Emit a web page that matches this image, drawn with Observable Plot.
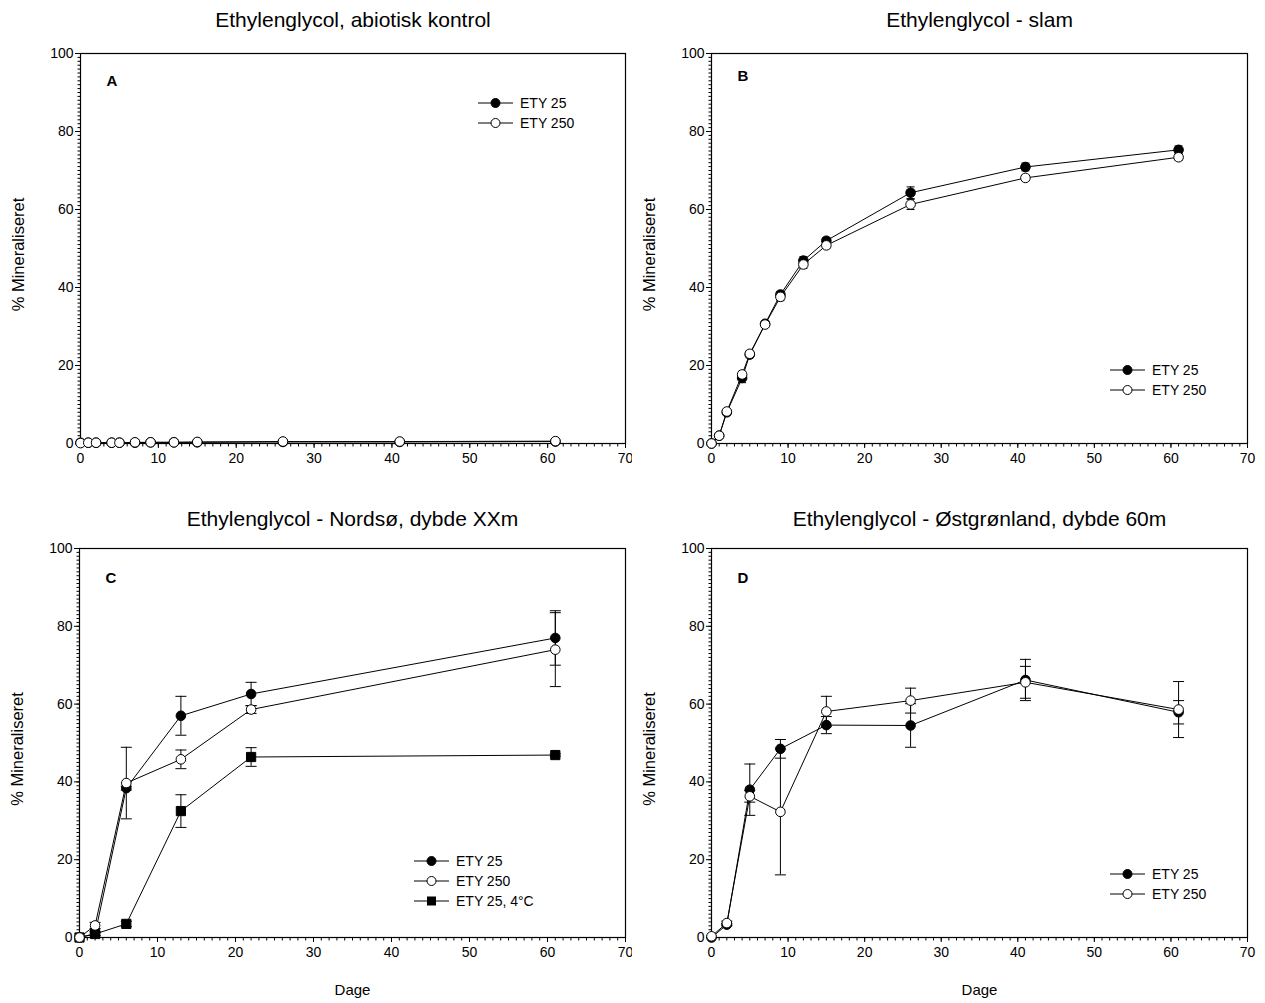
<!DOCTYPE html>
<html>
<head>
<meta charset="utf-8">
<script src="https://cdn.jsdelivr.net/npm/d3@7"></script>
<script src="https://cdn.jsdelivr.net/npm/@observablehq/plot@0.6"></script>
<style>
  html, body { margin: 0; padding: 0; background: #fff; }
  #wrap { position: relative; width: 1265px; height: 1003px; font-family: "Liberation Sans", Arial, Helvetica, sans-serif; }
  .panel { position: absolute; }
  .legend { position: absolute; }
</style>
</head>
<body>
<div id="wrap"></div>
<script>
// ---------- data ----------
const titles = ["Ethylenglycol, abiotisk kontrol", "Ethylenglycol - slam", "Ethylenglycol - Nordsø, dybde XXm", "Ethylenglycol - Østgrønland, dybde 60m"];
const panelLetters = ["A", "B", "C", "D"];
const yLabel = "% Mineraliseret";
const xLabel = "Dage";
const xTicks = [0, 10, 20, 30, 40, 50, 60, 70];
const yTicks = [0, 20, 40, 60, 80, 100];
const seriesNames = ["ETY 25", "ETY 250", "ETY 25, 4°C"];

const daysAB = [0, 1, 2, 4, 5, 7, 9, 12, 15, 26, 41, 61];
const aEty25 = [0.2, 0.2, 0.2, 0.2, 0.2, 0.2, 0.3, 0.3, 0.3, 0.4, 0.4, 0.5];
const aEty250 = [0.1, 0.2, 0.2, 0.2, 0.2, 0.3, 0.3, 0.3, 0.4, 0.5, 0.5, 0.6];

const bEty25 = [0, 2, 8, 16.8, 22.8, 30.7, 38.2, 46.9, 52, 64.3, 70.9, 75.3];
const bEty25Err = [0, 0.4, 0.6, 1.2, 0.8, 0.7, 0.8, 1.0, 0.7, 1.5, 1.0, 1.0];
const bEty250 = [0, 2, 8.2, 17.7, 23, 30.5, 37.6, 45.9, 50.8, 61.3, 68.1, 73.4];
const bEty250Err = [0, 0.4, 0.6, 0.8, 0.8, 0.7, 1.0, 1.0, 0.7, 1.3, 0.7, 0.8];

const daysC = [0, 2, 6, 13, 22, 61];
const cEty25 = [0, 1, 38.4, 57, 62.6, 77];
const cEty25Err = [0, 0.5, 0.5, 5, 3, 7];
const cEty250 = [0, 3.1, 39.7, 45.8, 58.6, 74];
const cEty250Err = [0, 0.8, 9.2, 2.4, 1, 9.5];
const cEty25Cold = [0, 0.9, 3.5, 32.5, 46.4, 46.9];
const cEty25ColdErr = [0, 0.5, 0.7, 4.2, 2.4, 0.3];

const daysD = [0, 2, 5, 9, 15, 26, 41, 61];
const dEty25 = [0, 3.3, 38, 48.5, 54.6, 54.5, 66.2, 57.9];
const dEty25Err = [0, 0.3, 6.6, 2.4, 2.2, 5.6, 5.3, 3];
const dEty250 = [0.3, 3.7, 36.3, 32.3, 58.1, 60.9, 65.6, 58.6];
const dEty250Err = [0, 0.5, 1.5, 16.2, 3.9, 3.2, 4.1, 7.2];

// ---------- helpers ----------
const FONT = '"Liberation Sans", Arial, Helvetica, sans-serif';
const cap = { draw(ctx, size) { const w = Math.sqrt(size / Math.PI); ctx.moveTo(-w, 0); ctx.lineTo(w, 0); } };
const vcap = { draw(ctx, size) { const w = Math.sqrt(size / Math.PI); ctx.moveTo(0, -w); ctx.lineTo(0, w); } };

function rows(days, vals, errs) {
  return days.map((d, i) => ({ x: d, y: vals[i], e: errs ? errs[i] : 0 }));
}

function seriesMarks(data, kind, capR) {
  const marks = [];
  marks.push(Plot.line(data, { x: "x", y: "y", stroke: "black", strokeWidth: 1 }));
  const ed = data.filter(d => d.e > 0.25);
  if (ed.length) {
    marks.push(Plot.ruleX(ed, { x: "x", y1: d => d.y - d.e, y2: d => d.y + d.e, stroke: "black", strokeWidth: 1 }));
    marks.push(Plot.dot(ed, { x: "x", y: d => d.y + d.e, symbol: cap, r: capR, stroke: "black", strokeWidth: 1 }));
    marks.push(Plot.dot(ed, { x: "x", y: d => d.y - d.e, symbol: cap, r: capR, stroke: "black", strokeWidth: 1 }));
  }
  if (kind === "filled") marks.push(Plot.dot(data, { x: "x", y: "y", r: 4.8, fill: "black", stroke: "black", strokeWidth: 1 }));
  if (kind === "open") marks.push(Plot.dot(data, { x: "x", y: "y", r: 4.8, fill: "white", stroke: "black", strokeWidth: 1 }));
  if (kind === "square") marks.push(Plot.dot(data, { x: "x", y: "y", symbol: "square", r: 5.2, fill: "black", stroke: "black", strokeWidth: 1 }));
  return marks;
}

function makePanel(cfg) {
  const svgW = 632, svgH = 500;
  const plot = Plot.plot({
    width: svgW, height: svgH,
    marginLeft: cfg.ml, marginRight: cfg.mr, marginTop: 53, marginBottom: svgH - cfg.bottom,
    style: { fontFamily: FONT, fontSize: "14px", color: "black", background: "white", overflow: "visible" },
    x: { domain: [0, 70] },
    y: { domain: [0, 100] },
    marks: [
      // minor ticks every unit
      Plot.dot(d3.range(0, 101, 1), { x: () => 0, y: d => d, symbol: cap, r: 1.5, dx: -1.5, stroke: "black", strokeWidth: 1 }),
      Plot.dot(d3.range(0, 71, 1), { x: d => d, y: () => 0, symbol: vcap, r: 1.5, dy: 1.5, stroke: "black", strokeWidth: 1 }),
      Plot.axisY({ ticks: yTicks, tickSize: 5, tickPadding: 2, label: null, fontSize: 14, strokeWidth: 1 }),
      Plot.axisX({ ticks: xTicks, tickSize: 5, tickPadding: 5, label: null, fontSize: 14, strokeWidth: 1 }),
      Plot.frame({ stroke: "black", strokeWidth: 1.2 }),
      ...cfg.series.flatMap(s => seriesMarks(s.data, s.kind, cfg.capR)),
      Plot.text([cfg.letter], { frameAnchor: "top-left", dx: 26, dy: cfg.letterDy, fontWeight: "bold", fontSize: 15, textAnchor: "start", lineAnchor: "middle" }),
      Plot.text([cfg.title], { frameAnchor: "top", dy: cfg.titleDy, fontSize: 21, lineAnchor: "middle" }),
      Plot.text([yLabel], { frameAnchor: "left", rotate: -90, dx: -62, dy: 6, fontSize: 16.5, textAnchor: "middle", lineAnchor: "middle" }),
      ...(cfg.xlab ? [Plot.text([xLabel], { frameAnchor: "bottom", dy: 53, fontSize: 15, lineAnchor: "middle" })] : [])
    ]
  });
  plot.classList.add("panel");
  plot.style.left = cfg.left + "px";
  plot.style.top = cfg.top + "px";
  document.getElementById("wrap").appendChild(plot);
}

function makeLegend(left, top, items) {
  const ns = "http://www.w3.org/2000/svg";
  const svg = document.createElementNS(ns, "svg");
  svg.setAttribute("width", 150);
  svg.setAttribute("height", items.length * 20 + 6);
  svg.setAttribute("class", "legend");
  svg.style.left = left + "px";
  svg.style.top = top + "px";
  items.forEach((it, i) => {
    const cy = 10 + i * 20;
    const line = document.createElementNS(ns, "line");
    line.setAttribute("x1", 2); line.setAttribute("x2", 37);
    line.setAttribute("y1", cy); line.setAttribute("y2", cy);
    line.setAttribute("stroke", "black");
    svg.appendChild(line);
    let sym;
    if (it.kind === "square") {
      sym = document.createElementNS(ns, "rect");
      sym.setAttribute("x", 15); sym.setAttribute("y", cy - 4.5);
      sym.setAttribute("width", 9); sym.setAttribute("height", 9);
      sym.setAttribute("fill", "black");
    } else {
      sym = document.createElementNS(ns, "circle");
      sym.setAttribute("cx", 19.5); sym.setAttribute("cy", cy); sym.setAttribute("r", 4.5);
      sym.setAttribute("fill", it.kind === "filled" ? "black" : "white");
      sym.setAttribute("stroke", "black");
    }
    svg.appendChild(sym);
    const t = document.createElementNS(ns, "text");
    t.setAttribute("x", 44); t.setAttribute("y", cy + 5);
    t.setAttribute("font-size", 14); t.setAttribute("font-family", FONT);
    t.textContent = it.name;
    svg.appendChild(t);
  });
  document.getElementById("wrap").appendChild(svg);
}

// ---------- panels ----------
makePanel({ left: 0, top: 0, ml: 80, mr: 7, bottom: 443, titleDy: -33, letterDy: 28, letter: panelLetters[0], title: titles[0], capR: 4, xlab: false,
  series: [ { data: rows(daysAB, aEty25), kind: "filled" }, { data: rows(daysAB, aEty250), kind: "open" } ] });
makePanel({ left: 632, top: 0, ml: 79, mr: 17, bottom: 443, titleDy: -33, letterDy: 23, letter: panelLetters[1], title: titles[1], capR: 4, xlab: false,
  series: [ { data: rows(daysAB, bEty25, bEty25Err), kind: "filled" }, { data: rows(daysAB, bEty250, bEty250Err), kind: "open" } ] });
makePanel({ left: 0, top: 495, ml: 79, mr: 7, bottom: 442, titleDy: -29, letterDy: 30, letter: panelLetters[2], title: titles[2], capR: 5.5, xlab: true,
  series: [ { data: rows(daysC, cEty25Cold, cEty25ColdErr), kind: "square" }, { data: rows(daysC, cEty25, cEty25Err), kind: "filled" }, { data: rows(daysC, cEty250, cEty250Err), kind: "open" } ] });
makePanel({ left: 632, top: 495, ml: 79, mr: 17, bottom: 442, titleDy: -29, letterDy: 30, letter: panelLetters[3], title: titles[3], capR: 5.5, xlab: true,
  series: [ { data: rows(daysD, dEty25, dEty25Err), kind: "filled" }, { data: rows(daysD, dEty250, dEty250Err), kind: "open" } ] });

// ---------- legends ----------
makeLegend(476, 93, [ { name: seriesNames[0], kind: "filled" }, { name: seriesNames[1], kind: "open" } ]);
makeLegend(1108, 360, [ { name: seriesNames[0], kind: "filled" }, { name: seriesNames[1], kind: "open" } ]);
makeLegend(412, 851, [ { name: seriesNames[0], kind: "filled" }, { name: seriesNames[1], kind: "open" }, { name: seriesNames[2], kind: "square" } ]);
makeLegend(1108, 864, [ { name: seriesNames[0], kind: "filled" }, { name: seriesNames[1], kind: "open" } ]);
</script>
</body>
</html>
